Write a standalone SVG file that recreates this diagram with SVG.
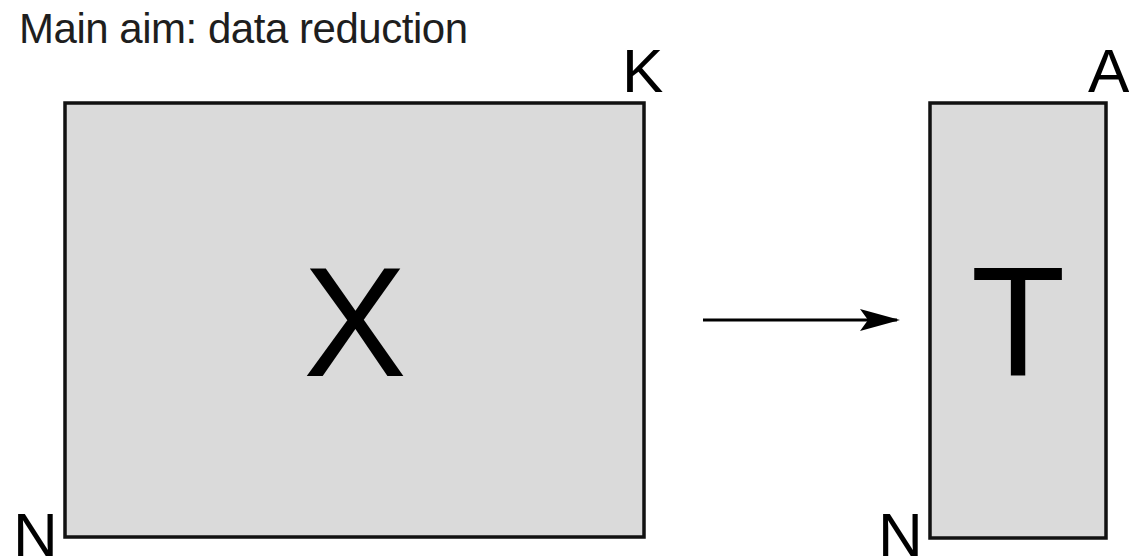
<svg xmlns="http://www.w3.org/2000/svg" width="1129" height="557" viewBox="0 0 1129 557">
  <style>
    .mat { fill: #dadada; stroke: #111; stroke-width: 3.5; }
    .lbl { font-family: "Liberation Sans", Arial, sans-serif; font-size: 62px; fill: #000; }
    .big { font-family: "Liberation Sans", Arial, sans-serif; font-size: 155px; fill: #000; text-anchor: middle; }
    .title { font-family: "Liberation Sans", Arial, sans-serif; font-size: 42px; fill: #1e1e1e; }
  </style>
  <defs>
    <marker id="ah" viewBox="0 0 40 24" refX="37" refY="12" markerWidth="40" markerHeight="24" markerUnits="userSpaceOnUse" orient="auto">
      <path d="M0,1 L40,12 L0,23 L8,12 Z" fill="#000"/>
    </marker>
  </defs>
  <rect width="1129" height="557" fill="#fff"/>
  <text class="title" x="19" y="43" textLength="449" lengthAdjust="spacing">Main aim: data reduction</text>
  <g id="node-X">
    <rect class="mat" x="65" y="103" width="579" height="434"/>
    <text class="big" x="355" y="376">X</text>
    <text class="lbl" x="622" y="92">K</text>
    <text class="lbl" x="13" y="556">N</text>
  </g>
  <g id="node-T">
    <rect class="mat" x="930" y="103" width="176" height="435"/>
    <text class="big" x="1018" y="376">T</text>
    <text class="lbl" x="1088" y="92">A</text>
    <text class="lbl" x="878" y="556">N</text>
  </g>
  <g id="connectors">
    <line x1="703" y1="320" x2="897" y2="320" stroke="#000" stroke-width="3" marker-end="url(#ah)"/>
  </g>
</svg>
